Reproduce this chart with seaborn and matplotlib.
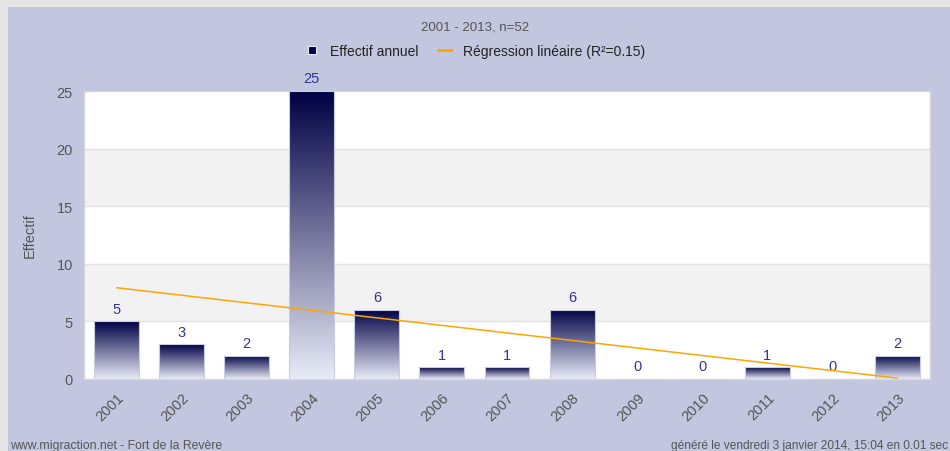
import numpy as np
import pandas as pd
import matplotlib
matplotlib.use("Agg")
import matplotlib.pyplot as plt
import seaborn as sns
from matplotlib.colors import LinearSegmentedColormap
from matplotlib.lines import Line2D
from matplotlib.patches import Rectangle

years = ["2001", "2002", "2003", "2004", "2005", "2006", "2007",
         "2008", "2009", "2010", "2011", "2012", "2013"]
counts = [5, 3, 2, 25, 6, 1, 1, 6, 0, 0, 1, 0, 2]
title = "2001 - 2013, n=52"
legend_labels = ["Effectif annuel", "Régression linéaire (R²=0.15)"]
ylabel = "Effectif"
footer_left = "www.migraction.net - Fort de la Revère"
footer_right = "généré le vendredi 3 janvier 2014, 15:04 en 0.01 sec"
yticks = [0, 5, 10, 15, 20, 25]

sns.set_theme(style="white")
plt.rcParams["font.family"] = ["Liberation Sans", "DejaVu Sans"]

TXT = "#555555"
PANEL = "#c2c7df"
LBL = "#333399"

df = pd.DataFrame({"year": years, "count": counts})

fig = plt.figure(figsize=(9.5, 4.52), dpi=100)
fig.patch.set_facecolor("#e6e6e6")
W, H = 950, 452
fig.patches.append(Rectangle((8 / W, 0), 1, (H - 8) / H, transform=fig.transFigure,
                             facecolor=PANEL, edgecolor="none", zorder=-5))

ax = fig.add_axes([84 / W, 1 - 380 / H, (930 - 84) / W, (380 - 92) / H])
ax.set_zorder(2)
ax.set_facecolor("white")

sns.barplot(data=df, x="year", y="count", ax=ax, width=0.69,
            color="#000044", edgecolor="#c8cce2", linewidth=0.8, zorder=3)

cmap = LinearSegmentedColormap.from_list("g", ["#e8ebf7", "#000044"])
grad = np.linspace(0, 1, 256).reshape(-1, 1)
for p in list(ax.patches):
    x0, y0, w, h = p.get_x(), p.get_y(), p.get_width(), p.get_height()
    if h <= 0:
        continue
    im = ax.imshow(grad, extent=[x0, x0 + w, y0, y0 + h], origin="lower",
                   cmap=cmap, aspect="auto", zorder=3.5, interpolation="bilinear")
    im.set_clip_path(p)
    p.set_facecolor("none")
    p.set_zorder(4)

ax.bar_label(ax.containers[0], labels=[str(c) for c in counts], padding=4,
             color=LBL, fontsize=10.5)

sns.regplot(x=np.arange(len(counts)), y=np.array(counts), ax=ax, scatter=False,
            ci=None, truncate=True, line_kws=dict(color="#ffa500", lw=1.1, zorder=5))

ax.set_xlim(-0.5, len(years) - 0.5)
ax.set_ylim(0, 25)
for lo, hi in [(5, 10), (15, 20)]:
    ax.axhspan(lo, hi, color="#f2f2f2", zorder=0.5, lw=0)
for yv in [5, 10, 15, 20]:
    ax.axhline(yv, color="#e2e2e2", lw=1, zorder=1)

ax.set_yticks(yticks)
ax.set_yticklabels([str(v) for v in yticks], color=TXT, fontsize=10.5)
ax.set_xticks(range(len(years)))
ax.set_xticklabels(years, rotation=45, ha="right", rotation_mode="anchor",
                   color=TXT, fontsize=10.5)
ax.tick_params(axis="both", length=0, pad=8)
ax.tick_params(axis="x", pad=8)
ax.set_xlabel("")
ax.set_ylabel(ylabel, color=TXT, fontsize=10.5, labelpad=14)
for s in ax.spines.values():
    s.set_color("#d6d6d6")
    s.set_linewidth(1)

fig.text(0.5, 1 - 28 / H, title, ha="center", va="center", color=TXT, fontsize=9.5)

handles = [Line2D([], [], marker="s", linestyle="none", markersize=6,
                  markerfacecolor="#000044", markeredgecolor="#e8ebf7", markeredgewidth=0.8),
           Line2D([], [], color="#ffa500", lw=2)]
leg = fig.legend(handles, legend_labels, loc="center", bbox_to_anchor=(0.5, 1 - 52 / H),
                 ncol=2, frameon=False, fontsize=10, handlelength=1.0,
                 handletextpad=0.8, columnspacing=1.4)
for t in leg.get_texts():
    t.set_color("#222222")

fig.text(10 / W, 1 - 446 / H, footer_left, ha="left", va="center", color=TXT, fontsize=8.8)
fig.text(948 / W, 1 - 446 / H, footer_right, ha="right", va="center", color=TXT, fontsize=8.6)

fig.savefig("out.png", dpi=100, facecolor=fig.get_facecolor())
